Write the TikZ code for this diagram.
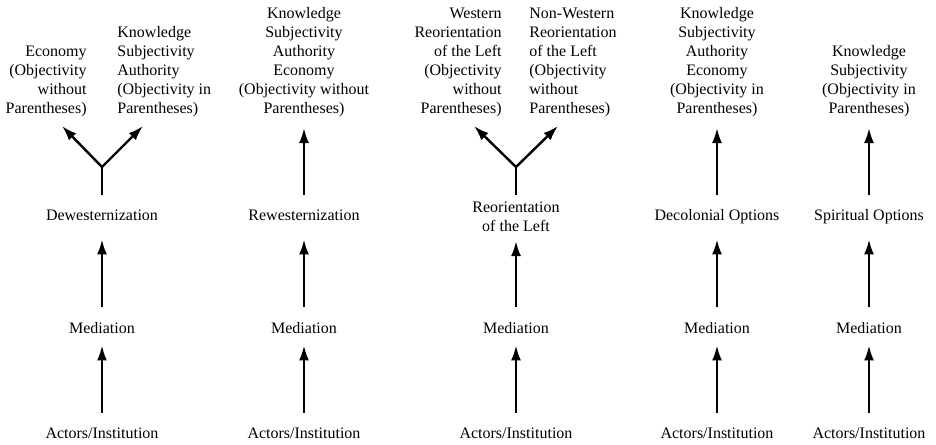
\documentclass[tikz,border=0pt]{standalone}
\usepackage{fontspec}
\setmainfont{Liberation Serif}
\usetikzlibrary{arrows.meta}

\tikzset{
  txt/.style={inner sep=0pt, font=\fontsize{8pt}{9.5pt}\selectfont},
  lbl/.style={txt, anchor=base, text height=5.5pt, text depth=1.75pt},
  blk/.style={txt, anchor=south},
  stem/.style={line width=1.2pt},
  arr/.style={stem, -{Latex[length=7.5pt,width=5pt]}},
  up1/.style={arr, shorten <=7pt, shorten >=4.25pt},
  up2/.style={arr, shorten <=7.5pt, shorten >=7.75pt},
  up3/.style={arr, shorten <=7pt, shorten >=5.5pt}
}

\begin{document}
\begin{tikzpicture}[x=0.5pt,y=-0.5pt]
\useasboundingbox (0,0) rectangle (936,444);

%Dewesternization
\node [lbl] (act1) at (102,438) {Actors/Institution};
\node [lbl] (med1) at (102,333) {Mediation};
\node [lbl] (dew) at (102,220) {Dewesternization};
\coordinate (j1) at (102,167);
\coordinate (t1a) at (62,126);
\coordinate (t1b) at (143,126);
\node [blk, anchor=south east, align=right] (eco1) at (87,117)
  {Economy\\(Objectivity\\without\\Parentheses)};
\node [blk, anchor=south west, align=left] (kno1) at (117,117)
  {Knowledge\\Subjectivity\\Authority\\(Objectivity in\\Parentheses)};
\draw [up1] (act1) -- (med1);
\draw [up2] (med1) -- (dew);
\draw [stem, shorten <=7pt] (dew) -- (j1);
\draw [arr] (j1) -- (t1a);
\draw [arr] (j1) -- (t1b);

%Rewesternization
\node [lbl] (act2) at (304,438) {Actors/Institution};
\node [lbl] (med2) at (304,333) {Mediation};
\node [lbl] (rew) at (304,220) {Rewesternization};
\node [blk, align=center] (kno2) at (304,117)
  {Knowledge\\Subjectivity\\Authority\\Economy\\(Objectivity without\\Parentheses)};
\draw [up1] (act2) -- (med2);
\draw [up2] (med2) -- (rew);
\draw [up3] (rew) -- (kno2);

%Reorientation of the Left
\node [lbl] (act3) at (516,438) {Actors/Institution};
\node [lbl] (med3) at (516,333) {Mediation};
\node [txt, anchor=north, align=center] (reo) at (516,201.5) {Reorientation\\of the Left};
\coordinate (j3) at (516,167);
\coordinate (t3a) at (474,126);
\coordinate (t3b) at (558,126);
\node [blk, anchor=south east, align=right] (wes) at (502,117)
  {Western\\Reorientation\\of the Left\\(Objectivity\\without\\Parentheses)};
\node [blk, anchor=south west, align=left] (nwes) at (529,117)
  {Non-Western\\Reorientation\\of the Left\\(Objectivity\\without\\Parentheses)};
\draw [up1] (act3) -- (med3);
\draw [arr, shorten <=7.5pt, shorten >=4.5pt] (med3) -- (reo);
\draw [stem, shorten <=3.5pt] (reo) -- (j3);
\draw [arr] (j3) -- (t3a);
\draw [arr] (j3) -- (t3b);

%Decolonial Options
\node [lbl] (act4) at (717,438) {Actors/Institution};
\node [lbl] (med4) at (717,333) {Mediation};
\node [lbl] (dec) at (717,220) {Decolonial Options};
\node [blk, align=center] (kno4) at (717,117)
  {Knowledge\\Subjectivity\\Authority\\Economy\\(Objectivity in\\Parentheses)};
\draw [up1] (act4) -- (med4);
\draw [up2] (med4) -- (dec);
\draw [up3] (dec) -- (kno4);

%Spiritual Options
\node [lbl] (act5) at (869,438) {Actors/Institution};
\node [lbl] (med5) at (869,333) {Mediation};
\node [lbl] (spi) at (869,220) {Spiritual Options};
\node [blk, align=center] (kno5) at (869,117)
  {Knowledge\\Subjectivity\\(Objectivity in\\Parentheses)};
\draw [up1] (act5) -- (med5);
\draw [up2] (med5) -- (spi);
\draw [up3] (spi) -- (kno5);

\end{tikzpicture}
\end{document}
